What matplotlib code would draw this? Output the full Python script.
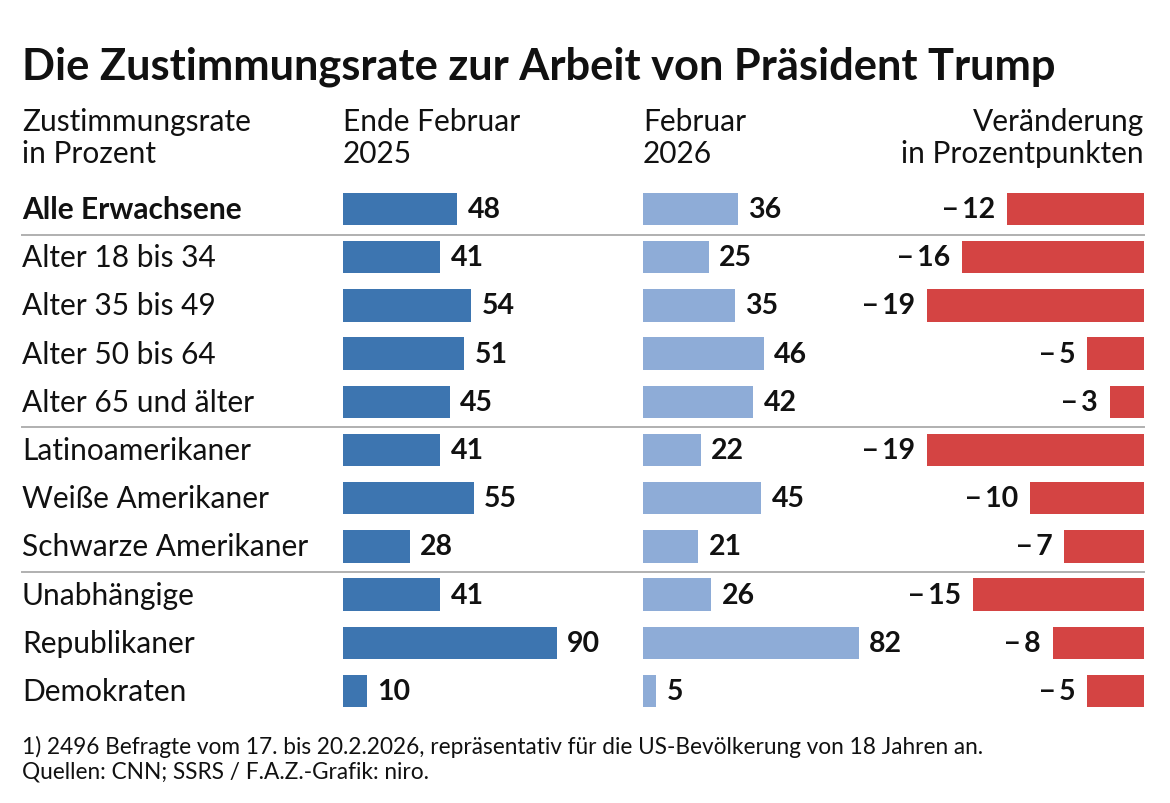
import matplotlib
matplotlib.use('Agg')
import matplotlib.pyplot as plt
import matplotlib.transforms as mtransforms
from matplotlib.lines import Line2D

plt.rcParams['font.family'] = ['Lato', 'DejaVu Sans']

# Data
groups = ['Alle Erwachsene', 'Alter 18 bis 34', 'Alter 35 bis 49', 'Alter 50 bis 64',
          'Alter 65 und älter', 'Latinoamerikaner', 'Weiße Amerikaner',
          'Schwarze Amerikaner', 'Unabhängige', 'Republikaner', 'Demokraten']
feb_2025 = [48, 41, 54, 51, 45, 41, 55, 28, 41, 90, 10]
feb_2026 = [36, 25, 35, 46, 42, 22, 45, 21, 26, 82, 5]
change = [-12, -16, -19, -5, -3, -19, -10, -7, -15, -8, -5]
separators_after = [0, 4, 7]

title = 'Die Zustimmungsrate zur Arbeit von Präsident Trump'
head_label = 'Zustimmungsrate\nin Prozent'
head_2025 = 'Ende Februar\n2025'
head_2026 = 'Februar\n2026'
head_change = 'Veränderung\nin Prozentpunkten'
footer = ('1) 2496 Befragte vom 17. bis 20.2.2026, repräsentativ für die US-Bevölkerung von 18 Jahren an.\n'
          'Quellen: CNN; SSRS / F.A.Z.-Grafik: niro.')

DARK_BLUE = '#3d75b0'
LIGHT_BLUE = '#8eacd7'
RED = '#d44443'
GRID = '#b0b0b0'
TEXT = '#111111'

W, H = 1170, 804
fig = plt.figure(figsize=(W / 100, H / 100), dpi=100)
fig.patch.set_facecolor('white')


def px_axes(left, top, width, height):
    """Add an axes given in pixel units (top-left origin)."""
    return fig.add_axes([left / W, 1 - (top + height) / H, width / W, height / H])


rows = list(range(len(groups)))
top, height = 186, 530
bar_h = 0.67

ax1 = px_axes(343, top, 237.5, height)
ax2 = px_axes(643, top, 263, height)
ax3 = px_axes(859, top, 285, height)

for ax in (ax1, ax2, ax3):
    ax.set_ylim(len(groups) - 0.5, -0.5)
    ax.axis('off')
ax1.set_xlim(0, 100)
ax2.set_xlim(0, 100)
ax3.set_xlim(-25, 0)

VAL_FS = 20.5

ax1.barh(rows, feb_2025, height=bar_h, color=DARK_BLUE)
for r, v in zip(rows, feb_2025):
    ax1.annotate(str(v), (v, r), xytext=(7.5, 0), textcoords='offset points',
                 ha='left', va='center', fontsize=VAL_FS, fontweight='bold', color=TEXT)

ax2.barh(rows, feb_2026, height=bar_h, color=LIGHT_BLUE)
for r, v in zip(rows, feb_2026):
    ax2.annotate(str(v), (v, r), xytext=(7.5, 0), textcoords='offset points',
                 ha='left', va='center', fontsize=VAL_FS, fontweight='bold', color=TEXT)

ax3.barh(rows, change, height=bar_h, color=RED)
for r, v in zip(rows, change):
    ax3.annotate('\u2212\u2009' + str(abs(v)), (v, r), xytext=(-8.5, 0), textcoords='offset points',
                 ha='right', va='center', fontsize=VAL_FS, fontweight='bold', color=TEXT)

# Row labels
lab_tr = mtransforms.blended_transform_factory(fig.transFigure, ax1.transData)
for r, g in zip(rows, groups):
    ax1.text(22 / W, r, g, transform=lab_tr, ha='left', va='center', fontsize=21.5,
             fontweight='bold' if r == 0 else 'normal', color=TEXT, clip_on=False)

# Separator lines
for s in separators_after:
    fig.add_artist(Line2D([22 / W, 1144 / W], [s + 0.53, s + 0.53], transform=lab_tr,
                          color=GRID, linewidth=1.4))

# Title, headers, footer
fig.text(22 / W, 1 - 67 / H, title, ha='left', va='center', fontsize=31.2,
         fontweight='bold', color=TEXT)
HEAD_FS = 21.5
head_y = 1 - 138 / H
for x, txt, ha in [(22, head_label, 'left'), (343, head_2025, 'left'),
                   (643, head_2026, 'left'), (1144, head_change, 'right')]:
    fig.text(x / W, head_y, txt, ha=ha, va='center', fontsize=HEAD_FS,
             linespacing=1.2, color=TEXT, multialignment=ha)
fig.text(22 / W, 1 - 759 / H, footer, ha='left', va='center', fontsize=16.3,
         linespacing=1.22, color=TEXT)

fig.savefig('out.png', dpi=100, facecolor='white')
